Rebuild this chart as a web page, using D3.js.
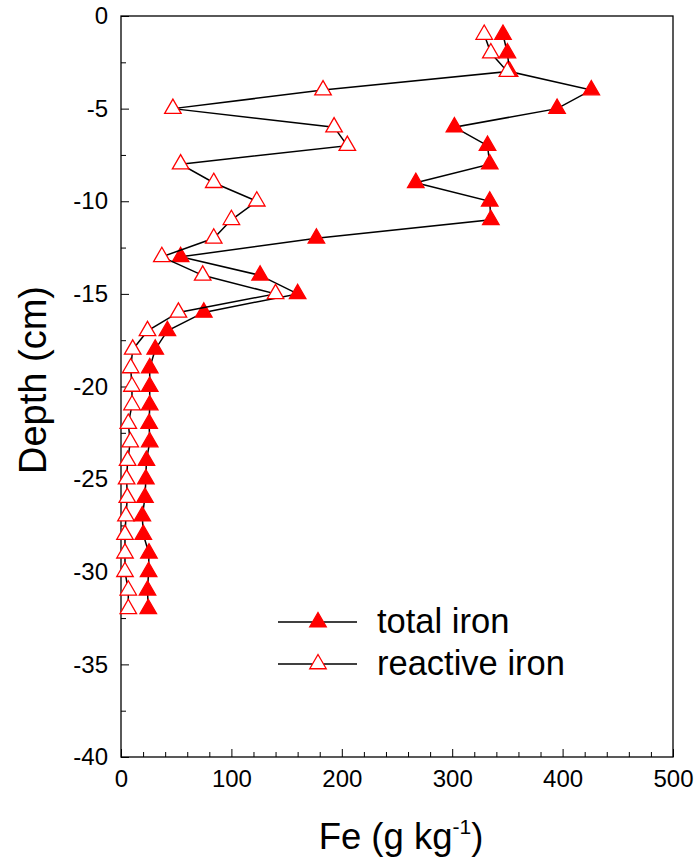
<!DOCTYPE html>
<html>
<head>
<meta charset="utf-8">
<script src="https://cdn.jsdelivr.net/npm/d3@7"></script>
<style>
  html, body { margin: 0; padding: 0; background: #fff; }
  svg { display: block; font-family: Arial, "Liberation Sans", sans-serif; }
</style>
</head>
<body>
<svg id="chart" width="696" height="861"></svg>
<script>
// Depth profile of iron in the sediment core (cm below surface)
const depths = [-1, -2, -3, -4, -5, -6, -7, -8, -9, -10, -11, -12, -13, -14, -15, -16,
                -17, -18, -19, -20, -21, -22, -23, -24, -25, -26, -27, -28, -29, -30, -31, -32];
// Total iron, g/kg
const totalIron = [346, 350, 352, 426, 395, 302, 332, 334, 267, 334, 335, 177, 54, 126, 160, 75,
                   42, 31, 26, 26, 26, 25.5, 26, 23, 22.5, 21.7, 19.3, 20.2, 25.3, 25, 24, 24.7];
// Reactive iron, g/kg
const reactiveIron = [329, 335, 350, 183, 47, 193, 205, 54, 84, 123, 100, 84, 37, 74, 140, 52,
                      24, 10.6, 8.8, 9.9, 10, 6.6, 8.4, 6, 5.1, 5.7, 4.5, 3.6, 3.6, 3.6, 6.6, 6.6];

const xTicks = [0, 100, 200, 300, 400, 500];
const yTicks = [0, -5, -10, -15, -20, -25, -30, -35, -40];
const seriesNames = ["total iron", "reactive iron"];

const svg = d3.select("#chart");
const plotL = 121, plotR = 673, plotT = 16, plotB = 757;

const x = d3.scaleLinear().domain([0, 500]).range([plotL, plotR]);
const y = d3.scaleLinear().domain([0, -40]).range([plotT, plotB]);

// Frame
svg.append("rect")
  .attr("x", plotL).attr("y", plotT)
  .attr("width", plotR - plotL).attr("height", plotB - plotT)
  .attr("fill", "none").attr("stroke", "#000").attr("stroke-width", 1.3);

// Inward ticks: minor then major
const minorX = d3.range(0, 501, 20).filter(v => v % 100 !== 0);
const minorY = d3.range(0, -40.1, -2.5).filter(v => v % 5 !== 0);
const tickFont = "Arial, 'Liberation Sans', sans-serif";
const plainNum = d => String(d);   // hyphen-minus for negatives

const xAxis = svg.append("g").attr("transform", `translate(0,${plotB})`);
xAxis.call(d3.axisBottom(x).tickValues(minorX).tickSizeInner(-5).tickSizeOuter(0).tickFormat(""));
xAxis.call(g => g.select(".domain").remove());
const xAxisMaj = svg.append("g").attr("transform", `translate(0,${plotB})`)
  .call(d3.axisBottom(x).tickValues(xTicks).tickSizeInner(-8).tickSizeOuter(0).tickPadding(13).tickFormat(plainNum));
xAxisMaj.select(".domain").remove();
xAxisMaj.selectAll("text").attr("font-size", 24).attr("font-family", tickFont).attr("fill", "#000");

const yAxis = svg.append("g").attr("transform", `translate(${plotL},0)`);
yAxis.call(d3.axisLeft(y).tickValues(minorY).tickSizeInner(-5).tickSizeOuter(0).tickFormat(""));
yAxis.call(g => g.select(".domain").remove());
const yAxisMaj = svg.append("g").attr("transform", `translate(${plotL},0)`)
  .call(d3.axisLeft(y).tickValues(yTicks).tickSizeInner(-8).tickSizeOuter(0).tickPadding(13).tickFormat(plainNum));
yAxisMaj.select(".domain").remove();
yAxisMaj.selectAll("text").attr("font-size", 24).attr("font-family", tickFont).attr("fill", "#000");
svg.selectAll(".tick line").attr("stroke", "#000").attr("stroke-width", 1);

// Axis titles
svg.append("text")
  .attr("x", 401).attr("y", 849)
  .attr("text-anchor", "middle")
  .attr("font-size", 36.5)
  .call(t => {
    t.append("tspan").text("Fe (g kg");
    t.append("tspan").attr("font-size", 21).attr("dy", -15).text("-1");
    t.append("tspan").attr("dy", 15).text(")");
  });

svg.append("text")
  .attr("transform", "translate(46,380) rotate(-90)")
  .attr("text-anchor", "middle")
  .attr("font-size", 38)
  .text("Depth (cm)");

// Triangle marker, centred on its centroid
const side = 16.5;
const hgt = side * Math.sqrt(3) / 2;
const triPath = `M0,${-2 * hgt / 3}L${side / 2},${hgt / 3}L${-side / 2},${hgt / 3}Z`;

const series = [
  { values: totalIron, fill: "#ff0000" },
  { values: reactiveIron, fill: "#ffffff" }
];

const line = d3.line().x(d => x(d[0])).y(d => y(d[1]));

series.forEach(s => {
  const pts = depths.map((dp, i) => [s.values[i], dp]);
  svg.append("path")
    .datum(pts)
    .attr("d", line)
    .attr("fill", "none")
    .attr("stroke", "#000")
    .attr("stroke-width", 1.5);
  svg.append("g").selectAll("path")
    .data(pts)
    .join("path")
    .attr("d", triPath)
    .attr("transform", d => `translate(${x(d[0])},${y(d[1])})`)
    .attr("fill", s.fill)
    .attr("stroke", "#ff0000")
    .attr("stroke-width", 1.3);
});

// Legend
const legend = svg.append("g");
const legendRows = [622, 664];
series.forEach((s, i) => {
  const ly = legendRows[i];
  legend.append("line")
    .attr("x1", 278).attr("x2", 357).attr("y1", ly).attr("y2", ly)
    .attr("stroke", "#000").attr("stroke-width", 1.5);
  legend.append("path")
    .attr("d", triPath)
    .attr("transform", `translate(318,${ly})`)
    .attr("fill", s.fill).attr("stroke", "#ff0000").attr("stroke-width", 1.3);
  legend.append("text")
    .attr("x", 377).attr("y", ly + 11)
    .attr("font-size", 34.5)
    .text(seriesNames[i]);
});
</script>
</body>
</html>
